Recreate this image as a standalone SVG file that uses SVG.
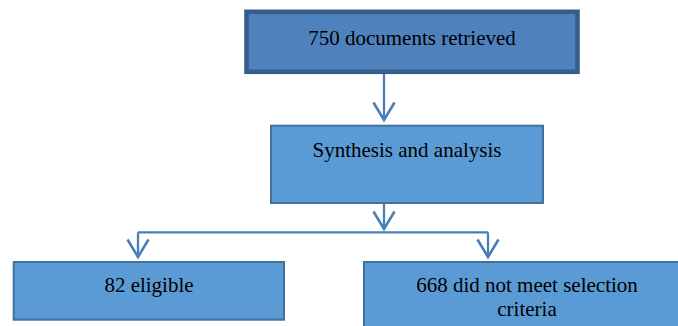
<svg xmlns="http://www.w3.org/2000/svg" width="678" height="326" viewBox="0 0 678 326">
<style>
.top{fill:#4F81BD;stroke:#385D8A;stroke-width:4.6}
.box{fill:#5B9BD5;stroke:#41719C;stroke-width:2}
.lbl{font-family:'Liberation Serif','DejaVu Serif',serif;font-size:21px;fill:#000;text-anchor:middle}
.con{fill:none;stroke:#4A7EBB;stroke-width:2.3}
</style>
<defs>
<marker id="arr" markerUnits="userSpaceOnUse" viewBox="-20 -14 24 28" refX="0" refY="0" markerWidth="24" markerHeight="28" orient="auto" overflow="visible">
<path d="M-17.5,-10.5 L0,0 L-17.5,10.5" fill="none" stroke="#4A7EBB" stroke-width="2.6"/>
</marker>
</defs>
<rect width="678" height="326" fill="#fff"/>
<g id="connectors">
<path class="con" d="M384,74 V120" marker-end="url(#arr)"/>
<path class="con" d="M384,204 V229" marker-end="url(#arr)"/>
<path class="con" d="M138,232.3 H488"/>
<path class="con" d="M138,232.3 V257" marker-end="url(#arr)"/>
<path class="con" d="M488,232.3 V257" marker-end="url(#arr)"/>
</g>
<g id="node-retrieved">
<rect class="top" x="246.5" y="11.8" width="331" height="60"/>
<text class="lbl" x="412" y="45" font-family="Liberation Serif, serif">750 documents retrieved</text>
</g>
<g id="node-synthesis">
<rect class="box" x="271" y="125.7" width="272" height="77.3"/>
<text class="lbl" x="407" y="157">Synthesis and analysis</text>
</g>
<g id="node-eligible">
<rect class="box" x="13.7" y="262" width="270.3" height="57.7"/>
<text class="lbl" x="149" y="292">82 eligible</text>
</g>
<g id="node-excluded">
<rect class="box" x="364" y="262" width="340" height="80"/>
<text class="lbl" x="527" y="292">668 did not meet selection</text>
<text class="lbl" x="527" y="316">criteria</text>
</g>
</svg>
